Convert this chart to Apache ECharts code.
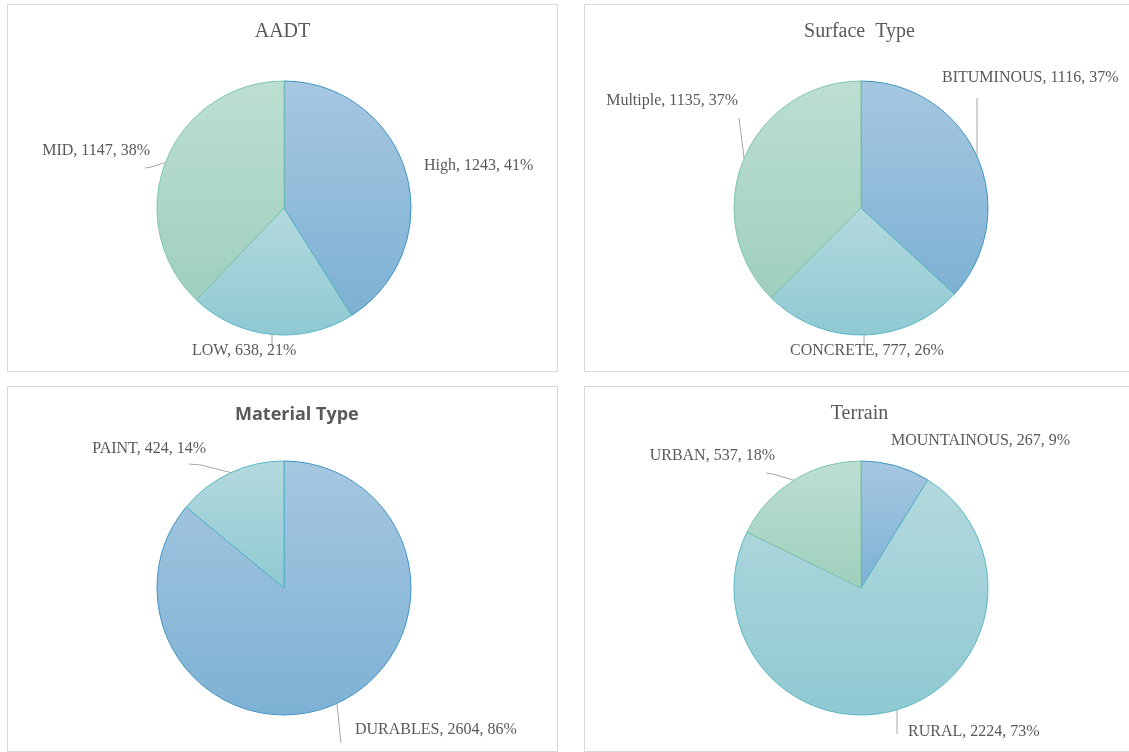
<!DOCTYPE html>
<html>
<head>
<meta charset="utf-8">
<script src="https://cdn.jsdelivr.net/npm/echarts@6/dist/echarts.min.js"></script>
<style>
  html, body { margin: 0; padding: 0; background: #fff; overflow: hidden; }
  .panel { position: absolute; border: 1px solid #d9d9d9; box-sizing: border-box; background: #fff; }
</style>
</head>
<body>
<div class="panel" id="p1" style="left:7px; top:4px; width:551px; height:368px;"></div>
<div class="panel" id="p2" style="left:584px; top:4px; width:551px; height:368px;"></div>
<div class="panel" id="p3" style="left:7px; top:386px; width:551px; height:366px;"></div>
<div class="panel" id="p4" style="left:584px; top:386px; width:551px; height:366px;"></div>
<script>
// data
const aadtNames = ['High', 'LOW', 'MID']
const aadtValues = [1243, 638, 1147]
const surfaceNames = ['BITUMINOUS', 'CONCRETE', 'Multiple']
const surfaceValues = [1116, 777, 1135]
const materialNames = ['DURABLES', 'PAINT']
const materialValues = [2604, 424]
const terrainNames = ['MOUNTAINOUS', 'RURAL', 'URBAN']
const terrainValues = [267, 2224, 537]

// slice colours: [top, bottom, outline]
const sliceColors = [
  ['#a6c7e0', '#7db1d4', '#3f94c4'],
  ['#b3d9de', '#8fc9d2', '#58b6c5'],
  ['#bddfd2', '#9fcfbd', '#7bc6aa']
]

const R = 127

// label anchors inside each panel: [x, y, align, leader]
// leader = null (no line) or { angle: where it meets the pie (deg, clockwise from top), pts: other points }
const panels = [
  { id: 'p1', title: 'AADT', names: aadtNames, values: aadtValues, cy: 203,
    labels: [
      [416, 161, 'left', null],
      [184, 346, 'left', { angle: 185.4, pts: [[264, 341]] }],
      [142, 146, 'right', { angle: 291, pts: [[137, 163], [143, 162]] }]
    ] },
  { id: 'p2', title: 'Surface  Type', names: surfaceNames, values: surfaceValues, cy: 203,
    labels: [
      [357, 73, 'left', { angle: 66, pts: [[392, 93]] }],
      [205, 346, 'left', { angle: 178.6, pts: [[279, 341]] }],
      [153, 96, 'right', { angle: 293, pts: [[154, 113]] }]
    ] },
  { id: 'p3', title: 'Material Type', bold: true, names: materialNames, values: materialValues, cy: 201,
    labels: [
      [347, 343, 'left', { angle: 155.4, pts: [[333, 356]] }],
      [198, 62, 'right', { angle: 335.3, pts: [[181, 77], [193, 78]] }]
    ] },
  { id: 'p4', title: 'Terrain', names: terrainNames, values: terrainValues, cy: 201,
    labels: [
      [306, 54, 'left', null],
      [323, 345, 'left', { angle: 163.5, pts: [[312, 347]] }],
      [190, 69, 'right', { angle: 328, pts: [[181, 86], [188, 87]] }]
    ] }
]

panels.forEach(p => {
  const chart = echarts.init(document.getElementById(p.id))
  const cx = 276
  const data = p.names.map((name, i) => ({
    name: name,
    value: p.values[i],
    itemStyle: {
      color: new echarts.graphic.LinearGradient(0, 0, 0, 1, [
        { offset: 0, color: sliceColors[i][0] },
        { offset: 1, color: sliceColors[i][1] }
      ]),
      borderColor: sliceColors[i][2],
      borderWidth: 1
    },
    labelLine: { show: !!p.labels[i][3] }
  }))
  chart.setOption({
    animation: false,
    title: {
      text: p.title,
      left: p.bold ? 222 : 'center',
      top: p.bold ? 14 : 12,
      textStyle: p.bold
        ? { fontFamily: 'Open Sans', fontSize: 18, fontWeight: 'bold', color: '#595959' }
        : { fontFamily: 'Liberation Serif', fontSize: 20, fontWeight: 'normal', color: '#595959' }
    },
    series: [{
      type: 'pie',
      center: [cx, p.cy],
      radius: R,
      startAngle: 90,
      clockwise: true,
      percentPrecision: 0,
      avoidLabelOverlap: false,
      label: {
        show: true,
        position: 'outside',
        formatter: '{b}, {c}, {d}%',
        fontFamily: 'Liberation Serif',
        fontSize: 16,
        color: '#595959'
      },
      labelLine: {
        show: true,
        length: 8,
        length2: 0,
        lineStyle: { color: '#a6a6a6', width: 1 }
      },
      labelLayout: params => {
        const l = p.labels[params.dataIndex]
        const out = { x: l[0], y: l[1], align: l[2], verticalAlign: 'middle' }
        if (l[3]) {
          const a = l[3].angle * Math.PI / 180
          const edge = [cx + R * Math.sin(a), p.cy - R * Math.cos(a)]
          out.labelLinePoints = l[3].pts.concat([edge])
        }
        return out
      },
      emphasis: { disabled: true },
      data: data
    }]
  })
})
</script>
</body>
</html>
